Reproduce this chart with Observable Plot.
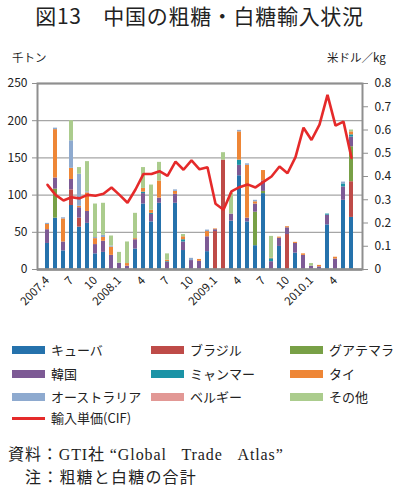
<!DOCTYPE html>
<html><head><meta charset="utf-8">
<script src="https://cdn.jsdelivr.net/npm/d3@7"></script>
<script src="https://cdn.jsdelivr.net/npm/@observablehq/plot@0.6"></script>
<style>
body{margin:0;background:#fff;}
#wrap{position:relative;width:399px;height:495px;overflow:hidden;font-family:'Noto Sans CJK JP','Noto Sans',sans-serif;color:#222;}
.abs{position:absolute;white-space:nowrap;}
#title{top:5px;left:0;width:399px;text-align:center;font-size:21px;line-height:21px;letter-spacing:0.7px;}
.unit{top:51px;font-size:11.5px;line-height:12px;}
.leg{font-size:13px;line-height:14px;display:flex;align-items:center;}
.sw{width:33px;height:8px;margin-right:6px;}
.foot{font-family:'Liberation Serif','DejaVu Serif','Noto Sans CJK JP',serif;font-size:16px;line-height:18px;letter-spacing:0.9px;}
svg{position:absolute;top:50px;left:0;}
</style></head>
<body><div id="wrap">
<div id="title" class="abs">図13　中国の粗糖・白糖輸入状況</div>
<div class="abs unit" style="left:12px;">千トン</div>
<div class="abs unit" style="left:327px;">米ドル／kg</div>
<div id="legend"></div>
<div class="abs foot" style="left:8px;top:446px;">資料：GTI社 “Global&nbsp;&nbsp;&nbsp;Trade&nbsp;&nbsp;&nbsp;Atlas”</div>
<div class="abs foot" style="left:25px;top:469px;letter-spacing:1.2px;">注：粗糖と白糖の合計</div>
</div>
<script>
const months = ["2007.4","2007.5","2007.6","2007.7","2007.8","2007.9","2007.10","2007.11","2007.12",
"2008.1","2008.2","2008.3","2008.4","2008.5","2008.6","2008.7","2008.8","2008.9","2008.10","2008.11","2008.12",
"2009.1","2009.2","2009.3","2009.4","2009.5","2009.6","2009.7","2009.8","2009.9","2009.10","2009.11","2009.12",
"2010.1","2010.2","2010.3","2010.4","2010.5","2010.6"];
const xTickMonths = ["2007.4","2007.7","2007.10","2008.1","2008.4","2008.7","2008.10","2009.1","2009.4","2009.7","2009.10","2010.1","2010.4"];
const xTickLabels = ["2007.4","7","10","2008.1","4","7","10","2009.1","4","7","10","2010.1","4"];
const seriesNames = ["キューバ","ブラジル","グアテマラ","韓国","ミャンマー","タイ","オーストラリア","ベルギー","その他"];
const seriesColors = ["#2572ac","#be4b48","#78a046","#7d5a95","#1b93a6","#ee8636","#8eaacf","#e29895","#abcc8d"];
const lineName = "輸入単価(CIF)";
const lineColor = "#e52a2a";
// thousand tonnes, one value per month
const cuba      = [35,69,25,86,57,62,21,23,0, 0,0,27.5,88,64,89,0,89,25.5,0,0,24, 0,0,65,126,64,32,102,0,31,0,22,0, 0,0,60,0,93,70];
const brazil    = [0,0,0,21,12,0,0,0,0, 0,0,0,0,0,0,0,0,0,0,0,0, 51,147,0,0,0,0,0,0,0,47,0,0, 0,0,0,0,0,48];
const guatemala = [0,39,0,0,0,0,0,0,0, 0,0,0,0,0,0,0,0,0,0,0,0, 0,0,0,0,0,45,3,0,0,0,0,0, 0,0,0,0,0,47];
const korea     = [18.5,15,12,14,14,16,12.5,15,19, 8.5,4.5,12.5,14,10,7,9.5,12,11.5,12,11,20, 2.5,0,9.5,14,5,11,14,10.5,11,9,13,19, 4.5,3.5,13,14,18,13];
const myanmar   = [0,0,0,0,0,0,0,0,0, 0,0,0,2,1.5,0,1,0,3,0,0,0, 0,0,0,7,0,0,0,4,0,0,0,0, 0,0,1.5,0,4,3];
const thai      = [7,65,31,15,2,25,8,5,11, 0,3.5,1.5,5,4,23,2,4,4,0,2.5,7, 1,0,0,38,71,3,14,1,1.5,1.5,1.5,2, 0,2,0,2.5,0,4];
const australia = [1.5,2,1.5,37,43,1.5,1.5,3,1.5, 0,0,0,0,0,0,0,2,0,3,0,2, 0,0,0,2,2,2,0,0,0,0,0,0, 0,0,0,0,2.5,0];
const belgium   = [0,0,0,0,0,0,0,0,0, 0,0,0,0,0,0,0,0,0,0,0,0, 0,0,0,0,0,0,0,0,0,0,0,0, 0,0,0,0,0,0];
const others    = [0,0,0,27,9,40.5,45,43,13.5, 14.5,29,34,28,34,25,8.5,0,3,0,0,0, 0,10,28,0,0,0,0,29,0,0,0,0, 3.5,0,0,0,0,2.5];
// US$/kg
const cif = [0.364,0.321,0.297,0.311,0.306,0.321,0.317,0.326,0.353,
0.321,0.287,0.344,0.411,0.411,0.423,0.403,0.464,0.429,0.469,0.431,0.44,
0.283,0.257,0.336,0.354,0.366,0.353,0.377,0.40,0.443,0.414,0.483,0.61,
0.557,0.623,0.751,0.619,0.636,0.48];
const yTicks = [0,50,100,150,200,250];
const y2Ticks = [0,0.1,0.2,0.3,0.4,0.5,0.6,0.7,0.8];
const y2Max = 0.8, yMax = 250;
const k = yMax / y2Max;

const seriesData = [cuba,brazil,guatemala,korea,myanmar,thai,australia,belgium,others];
const rows = [];
months.forEach((m,i)=>{ seriesNames.forEach((s,j)=>{ rows.push({month:m, series:s, value:seriesData[j][i]}); }); });
const lineRows = months.map((m,i)=>({month:m, v:cif[i]}));

const chart = Plot.plot({
  width:399, height:285, marginTop:33, marginBottom:66, marginLeft:37, marginRight:37,
  style:{fontFamily:"'Noto Sans CJK JP','Noto Sans',sans-serif", fontSize:"12px", color:"#222", background:"transparent", overflow:"visible"},
  x:{type:"band", domain:months, paddingInner:0.46, paddingOuter:0.23, label:null},
  y:{domain:[0,yMax], label:null},
  color:{domain:seriesNames, range:seriesColors},
  marks:[
    Plot.ruleY(yTicks.filter(d=>d>0), {stroke:"#a6a6a6", strokeWidth:1.3}),
    Plot.barY(rows, {x:"month", y:"value", fill:"series"}),
    Plot.line(lineRows, {x:"month", y:d=>d.v*k, stroke:lineColor, strokeWidth:2.6, strokeLinejoin:"miter"}),
    Plot.frame({stroke:"#8f8f8f", strokeWidth:2}),
    Plot.ruleY([0], {stroke:"#8f8f8f", strokeWidth:2.5}),
    Plot.axisY({anchor:"left", ticks:yTicks, tickSize:5, tickPadding:5, stroke:"#8f8f8f", label:null}),
    Plot.axisY({anchor:"right", ticks:y2Ticks.map(v=>v*k), tickFormat:d=>{const v=d/k; return v===0?"0":v.toFixed(1);}, tickSize:5, tickPadding:7, stroke:"#8f8f8f", label:null}),
    Plot.axisX({ticks:xTickMonths, tickFormat:d=>xTickLabels[xTickMonths.indexOf(d)], tickRotate:-45, tickSize:0, tickPadding:9, fontSize:11.5, label:null})
  ]
});
document.getElementById("wrap").appendChild(chart);

// legend
const leg = document.getElementById("legend");
const colX = [12,151,290], rowY = [343,367,390];
seriesNames.forEach((s,i)=>{
  const d = document.createElement("div");
  d.className = "abs leg";
  d.style.left = colX[i%3]+"px"; d.style.top = rowY[Math.floor(i/3)]+"px";
  d.innerHTML = `<span class="sw" style="background:${seriesColors[i]}"></span><span>${s}</span>`;
  leg.appendChild(d);
});
const dl = document.createElement("div");
dl.className = "abs leg"; dl.style.left = "12px"; dl.style.top = "411px";
dl.innerHTML = `<span class="sw" style="height:3px;background:${lineColor}"></span><span>${lineName}</span>`;
leg.appendChild(dl);
</script>
</body></html>
